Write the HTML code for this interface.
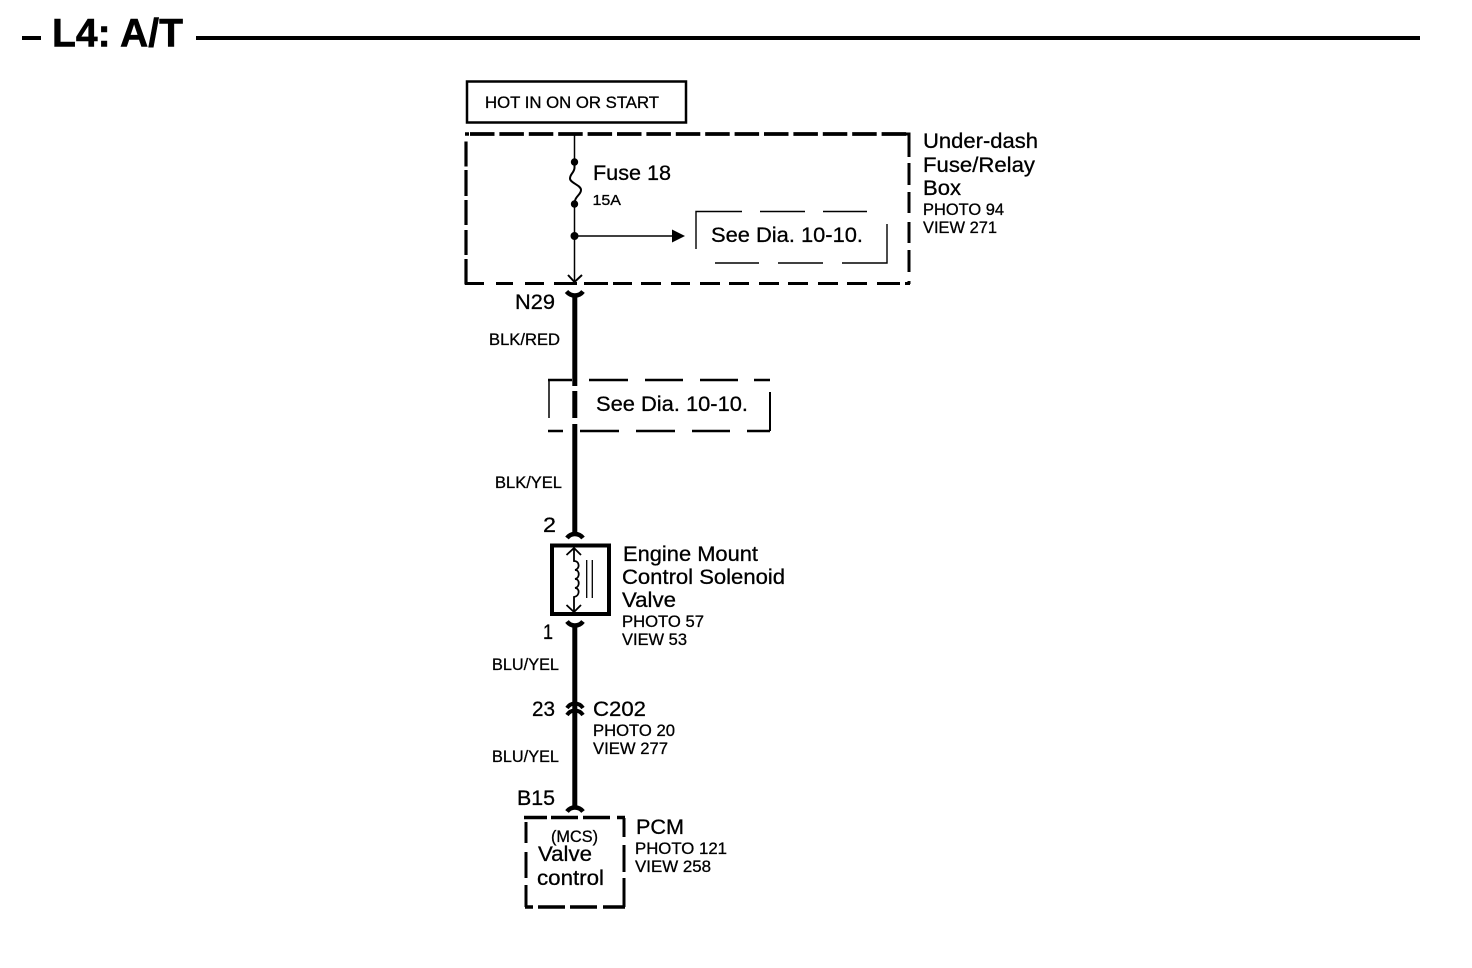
<!DOCTYPE html>
<html>
<head>
<meta charset="utf-8">
<style>
html,body{margin:0;padding:0;background:#fff;}
svg{display:block;}
text{font-family:"Liberation Sans",sans-serif;fill:#000;stroke:#000;stroke-width:.3px;}
.b{font-size:21.500px;}
.s{font-size:16.500px;}
</style>
</head>
<body>
<svg width="1472" height="968" viewBox="0 0 1472 968" xmlns="http://www.w3.org/2000/svg">
<rect width="1472" height="968" fill="#fff"/>

<!-- Title -->
<rect x="22" y="36" width="19" height="4" fill="#000"/>
<text x="52" y="46.500" font-size="39.500" font-weight="bold" style="stroke-width:.6px" textLength="131" lengthAdjust="spacingAndGlyphs">L4: A/T</text>
<rect x="196" y="36" width="1224" height="4" fill="#000"/>

<!-- Hot box -->
<rect x="467" y="81.500" width="219" height="41" fill="none" stroke="#000" stroke-width="2.500"/>
<text class="s" x="485" y="108" textLength="174" lengthAdjust="spacingAndGlyphs">HOT IN ON OR START</text>

<!-- Under-dash dashed box -->
<g fill="none" stroke="#000">
<path d="M465 134H469" stroke-width="3.500"/>
<path d="M470 134H907" stroke-width="3.800" stroke-dasharray="24.500 4.900"/>
<path d="M886 134H909V157M909 163V185M909 192V213M909 222V243M909 250V272M909 281V284" stroke-width="3"/>
<path d="M466 141.500V166.500M466 170V196M466 200V225M466 230V255M466 259V284.500" stroke-width="3.200"/>
<path d="M465 283.500H484M496 283.500H513M525 283.500H544M554 283.500H577M584 283.500H608M613 283.500H632M641 283.500H661M671 283.500H690M700 283.500H720M729 283.500H749M759 283.500H779M788 283.500H808M818 283.500H838M847 283.500H867M877 283.500H900M905 283.500H910" stroke-width="3"/>
</g>

<!-- Fuse and thin wire -->
<g fill="none" stroke="#000" stroke-width="1.500">
<path d="M574.500 134V162"/>
<path d="M574.500 162V168C574 173 570 174 570 178.500C570 183 581 185 581 190C581 195 574.500 196 574.500 204" stroke-width="2"/>
<path d="M574.500 204V283"/>
<path d="M574.500 236H673"/>
<path d="M568 275L574.500 282L582 275" stroke-width="2"/>
</g>
<circle cx="574.500" cy="162" r="3.700"/>
<circle cx="574.500" cy="204" r="3.700"/>
<circle cx="574.500" cy="236" r="4"/>
<path d="M672 229.500L685 236L672 242.500Z"/>
<text class="b" x="593" y="180" textLength="78" lengthAdjust="spacingAndGlyphs">Fuse 18</text>
<text x="592.500" y="205" font-size="14.500" textLength="28.500" lengthAdjust="spacingAndGlyphs">15A</text>

<!-- See Dia small box -->
<g fill="none" stroke="#000" stroke-width="1.400">
<path d="M696 249V211.500H742M760 211.500H805M823 211.500H867"/>
<path d="M887 224V263H842M823 263H778M759 263H715"/>
</g>
<text class="b" x="711" y="242" textLength="152" lengthAdjust="spacingAndGlyphs">See Dia. 10-10.</text>

<!-- Under-dash labels -->
<text class="b" x="923" y="148" textLength="115" lengthAdjust="spacingAndGlyphs">Under-dash</text>
<text class="b" x="923" y="172" textLength="112" lengthAdjust="spacingAndGlyphs">Fuse/Relay</text>
<text class="b" x="923" y="195" textLength="38" lengthAdjust="spacingAndGlyphs">Box</text>
<text class="s" x="923" y="215" textLength="81" lengthAdjust="spacingAndGlyphs">PHOTO 94</text>
<text class="s" x="923" y="233" textLength="74" lengthAdjust="spacingAndGlyphs">VIEW 271</text>

<!-- Thick wire segments -->
<g stroke="#000" stroke-width="5" fill="none">
<path d="M574.800 295V386"/>
<path d="M574.800 391V418"/>
<path d="M574.800 424V535"/>
<path d="M574.800 624V808"/>
</g>

<!-- N29 connector -->
<path d="M566.500 291.500Q570 295.500 574.800 295.500Q580 295.500 583 291.500" fill="none" stroke="#000" stroke-width="4.500"/>
<text class="b" x="515" y="309" textLength="40" lengthAdjust="spacingAndGlyphs">N29</text>
<text class="s" x="489" y="345" textLength="71" lengthAdjust="spacingAndGlyphs">BLK/RED</text>

<!-- See Dia box 2 -->
<g fill="none" stroke="#000" stroke-width="2.500">
<path d="M589 380H628M645 380H683M700 380H738M754 380H770"/>
<path d="M548 380H572"/>
<path d="M548 431H563M580 431H619M636 431H675M692 431H730M747 431H770"/>
<path d="M770 392V431" stroke-width="2"/>
<path d="M549 380V418" stroke-width="1.500"/>
</g>
<text class="b" x="596" y="411" textLength="152" lengthAdjust="spacingAndGlyphs">See Dia. 10-10.</text>
<text class="s" x="495" y="488" textLength="67" lengthAdjust="spacingAndGlyphs">BLK/YEL</text>

<!-- Connector 2 -->
<text class="b" x="543" y="532" textLength="13" lengthAdjust="spacingAndGlyphs">2</text>
<path d="M567 538Q570 534 574.800 534Q580 534 583 538" fill="none" stroke="#000" stroke-width="4.500"/>

<!-- Solenoid -->
<rect x="552" y="545.500" width="57" height="68.500" fill="none" stroke="#000" stroke-width="4"/>
<g fill="none" stroke="#000" stroke-width="1.800">
<path d="M574 548V561C580 561 580 569 575 570C580 570 580 578 575 579C580 579 580 587 575 588C580 588 580 596 574 597V612"/>
<path d="M566.500 555L574 548L581 555"/>
<path d="M566.500 605L574 612L581 605"/>
<path d="M586.700 560V598M592.300 560V598" stroke-width="1.300"/>
</g>
<text class="b" x="623" y="561" textLength="135" lengthAdjust="spacingAndGlyphs">Engine Mount</text>
<text class="b" x="622" y="584" textLength="163" lengthAdjust="spacingAndGlyphs">Control Solenoid</text>
<text class="b" x="622" y="607" textLength="54" lengthAdjust="spacingAndGlyphs">Valve</text>
<text class="s" x="622" y="627" textLength="82" lengthAdjust="spacingAndGlyphs">PHOTO 57</text>
<text class="s" x="622" y="645" textLength="65" lengthAdjust="spacingAndGlyphs">VIEW 53</text>

<!-- Connector 1 -->
<path d="M567 621.500Q570 625.500 574.800 625.500Q580 625.500 583 621.500" fill="none" stroke="#000" stroke-width="4.500"/>
<text class="b" x="543" y="639" textLength="10" lengthAdjust="spacingAndGlyphs">1</text>
<text class="s" x="492" y="670" textLength="67" lengthAdjust="spacingAndGlyphs">BLU/YEL</text>

<!-- C202 -->
<g fill="none" stroke="#000" stroke-width="4">
<path d="M567 708Q570 703.500 574.800 703.500Q580 703.500 583 708"/>
<path d="M567 715Q570 710.500 574.800 710.500Q580 710.500 583 715"/>
</g>
<text class="b" x="532" y="716" textLength="23" lengthAdjust="spacingAndGlyphs">23</text>
<text class="b" x="593" y="716" textLength="53" lengthAdjust="spacingAndGlyphs">C202</text>
<text class="s" x="593" y="736" textLength="82" lengthAdjust="spacingAndGlyphs">PHOTO 20</text>
<text class="s" x="593" y="754" textLength="75" lengthAdjust="spacingAndGlyphs">VIEW 277</text>
<text class="s" x="492" y="762" textLength="67" lengthAdjust="spacingAndGlyphs">BLU/YEL</text>

<!-- B15 -->
<text class="b" x="517" y="805" textLength="38" lengthAdjust="spacingAndGlyphs">B15</text>
<path d="M567 811.500Q570 807.500 574.800 807.500Q580 807.500 583 811.500" fill="none" stroke="#000" stroke-width="4.500"/>

<!-- PCM box -->
<g fill="none" stroke="#000" stroke-width="3.500">
<path d="M524 817.500H547M551 817.500H578M583 817.500H610M617 817.500H625"/>
<path d="M624 818V837M624 845V872M624 878V907" stroke-width="3"/>
<path d="M526 822V843M526 852V878M526 885V907" stroke-width="3"/>
<path d="M525 907H533M538 907H565M570 907H597M603 907H625"/>
</g>
<text x="551" y="842" font-size="17" textLength="47" lengthAdjust="spacingAndGlyphs">(MCS)</text>
<text class="b" x="538" y="861" textLength="54" lengthAdjust="spacingAndGlyphs">Valve</text>
<text class="b" x="537" y="885" textLength="67" lengthAdjust="spacingAndGlyphs">control</text>
<text class="b" x="636" y="834" textLength="48" lengthAdjust="spacingAndGlyphs">PCM</text>
<text class="s" x="635" y="854" textLength="92" lengthAdjust="spacingAndGlyphs">PHOTO 121</text>
<text class="s" x="635" y="872" textLength="76" lengthAdjust="spacingAndGlyphs">VIEW 258</text>
</svg>
</body>
</html>
